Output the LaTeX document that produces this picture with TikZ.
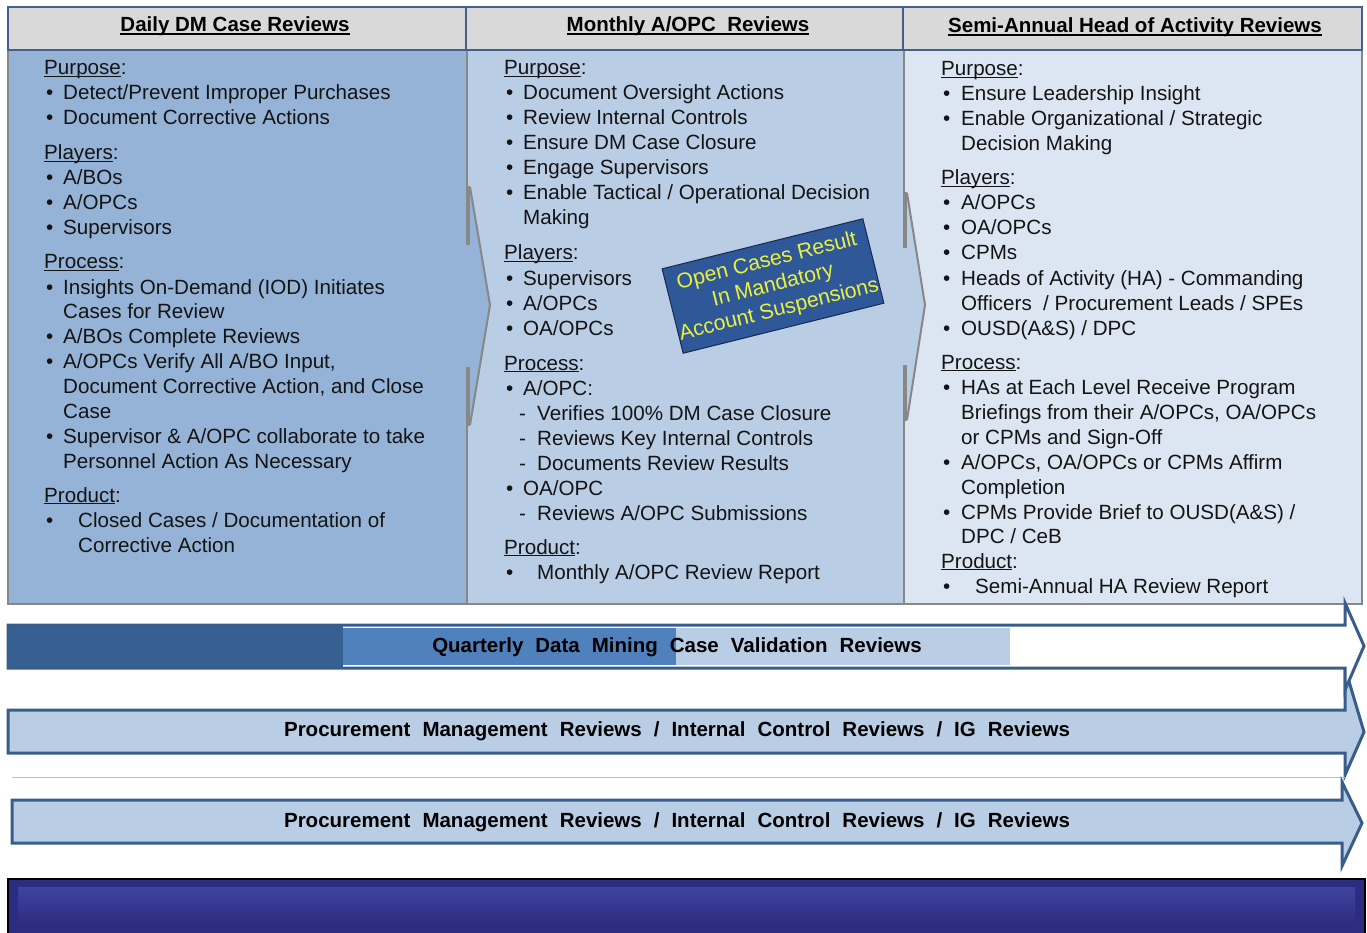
\documentclass[tikz,border=0pt]{standalone}
\usepackage{fontspec}
\setmainfont{Liberation Sans}
\definecolor{hdfill}{RGB}{217,217,217}
\definecolor{hdline}{RGB}{66,96,138}
\definecolor{cola}{RGB}{149,179,215}
\definecolor{colb}{RGB}{185,205,229}
\definecolor{colc}{RGB}{220,230,242}
\definecolor{sepgray}{RGB}{135,135,135}
\definecolor{arrline}{RGB}{56,93,138}
\definecolor{arrdark}{RGB}{55,96,146}
\definecolor{arrmid}{RGB}{79,129,189}
\definecolor{arrlight}{RGB}{185,205,229}
\definecolor{boxblue}{RGB}{47,88,152}
\definecolor{boxline}{RGB}{25,40,80}
\definecolor{warnyellow}{RGB}{235,240,60}
\definecolor{barnavy}{RGB}{44,44,128}
\definecolor{bartop}{RGB}{64,66,160}
\definecolor{textblack}{RGB}{20,20,20}
\newcommand\ulx[1]{{\setbox0\hbox{#1}\rlap{\rule[-2.2pt]{\wd0}{1.1pt}}\box0}}
\newcommand\ulh[1]{{\setbox0\hbox{#1}\rlap{\rule[-3pt]{\wd0}{1.5pt}}\box0}}
\newcommand\wsp[1]{{\spaceskip=12pt plus 1pt\relax #1}}
\newcommand\Hd[4]{\node[txt] (#1) at (#2,#3) {\ulx{#4}:};}
\newcommand\Bu[5]{\node[txt] (#1) at (#2,#3) {\makebox[#4pt][l]{\textbullet}#5};}
\newcommand\Dl[4]{\node[txt] (#1) at (#2,#3) {\makebox[18pt][l]{-}#4};}
\newcommand\Cl[4]{\node[txt] (#1) at (#2,#3) {#4};}
\tikzset{
  txt/.style={anchor=base west, inner sep=0pt, text=textblack, font=\fontsize{20.6}{25}\selectfont},
  hdtxt/.style={anchor=base, inner sep=0pt, text=black, font=\fontsize{20.5}{25}\selectfont\bfseries},
  arrtxt/.style={inner sep=0pt, text=black, font=\fontsize{20.5}{25}\selectfont\bfseries},
  hdcell/.style={fill=hdfill, draw=hdline, line width=2.5pt},
  colcell/.style={draw=sepgray, line width=2pt},
  chev/.style={draw=sepgray, line width=2pt, line join=round},
  chevbar/.style={draw=sepgray, line width=4pt},
  arrow/.style={draw=arrline, line width=3pt, line join=miter},
}
\begin{document}
\begin{tikzpicture}[x=1pt,y=-1pt]
\useasboundingbox (0,0) rectangle (1367,933);
\fill[white] (0,0) rectangle (1367,933);
% columns
\path[colcell, fill=cola] (8,50) rectangle (467,604);
\path[colcell, fill=colb] (467,50) rectangle (904,604);
\path[colcell, fill=colc] (904,50) rectangle (1362,604);
% chevrons
\fill[cola] (464,187) -- (470,187) -- (490,305) -- (470,425) -- (464,425) -- cycle;
\draw[chev] (470,187) -- (490,305) -- (470,425);
\draw[chevbar] (468,186) -- (468,245);
\draw[chevbar] (468,367) -- (468,426);
\fill[colb] (901,193) -- (907,193) -- (925,305) -- (907,420) -- (901,420) -- cycle;
\draw[chev] (907,193) -- (925,305) -- (907,420);
\draw[chevbar] (905,192) -- (905,248);
\draw[chevbar] (905,365) -- (905,421);
% headers
\path[hdcell] (8,7) rectangle (466,50);
\path[hdcell] (466,7) rectangle (903,50);
\path[hdcell] (903,7) rectangle (1362,50);
\node[hdtxt] (h1) at (235,32) {\ulh{Daily DM Case Reviews}};
\node[hdtxt] (h2) at (688,32) {\ulh{Monthly A/OPC\ \ Reviews}};
\node[hdtxt] (h3) at (1135,33) {\ulh{Semi-Annual Head of Activity Reviews}};
% column 1
\Hd{a1}{44}{75}{Purpose}
\Bu{a2}{46}{100}{17}{Detect/Prevent Improper Purchases}
\Bu{a3}{46}{125}{17}{Document Corrective Actions}
\Hd{a4}{44}{160}{Players}
\Bu{a5}{46}{185}{17}{A/BOs}
\Bu{a6}{46}{210}{17}{A/OPCs}
\Bu{a7}{46}{235}{17}{Supervisors}
\Hd{a8}{44}{269}{Process}
\Bu{a9}{46}{294}{17}{Insights On-Demand (IOD) Initiates}
\Cl{a10}{63}{318}{Cases for Review}
\Bu{a11}{46}{343}{17}{A/BOs Complete Reviews}
\Bu{a12}{46}{368}{17}{A/OPCs Verify All A/BO Input,}
\Cl{a13}{63}{393}{Document Corrective Action, and Close}
\Cl{a14}{63}{418}{Case}
\Bu{a15}{46}{443}{17}{Supervisor \& A/OPC collaborate to take}
\Cl{a16}{63}{468}{Personnel Action As Necessary}
\Hd{a17}{44}{502}{Product}
\Bu{a18}{46}{527}{32}{Closed Cases / Documentation of}
\Cl{a19}{78}{552}{Corrective Action}
% column 2
\Hd{b1}{504}{75}{Purpose}
\Bu{b2}{506}{100}{17}{Document Oversight Actions}
\Bu{b3}{506}{125}{17}{Review Internal Controls}
\Bu{b4}{506}{150}{17}{Ensure DM Case Closure}
\Bu{b5}{506}{175}{17}{Engage Supervisors}
\Bu{b6}{506}{200}{17}{Enable Tactical / Operational Decision}
\Cl{b7}{523}{225}{Making}
\Hd{b8}{504}{260}{Players}
\Bu{b9}{506}{285}{17}{Supervisors}
\Bu{b10}{506}{310}{17}{A/OPCs}
\Bu{b11}{506}{335}{17}{OA/OPCs}
\Hd{b12}{504}{370}{Process}
\Bu{b13}{506}{395}{17}{A/OPC:}
\Dl{b14}{519}{420}{Verifies 100\% DM Case Closure}
\Dl{b15}{519}{445}{Reviews Key Internal Controls}
\Dl{b16}{519}{470}{Documents Review Results}
\Bu{b17}{506}{495}{17}{OA/OPC}
\Dl{b18}{519}{520}{Reviews A/OPC Submissions}
\Hd{b19}{504}{554}{Product}
\Bu{b20}{506}{579}{31}{Monthly A/OPC Review Report}
% column 3
\Hd{c1}{941}{76}{Purpose}
\Bu{c2}{943}{101}{18}{Ensure Leadership Insight}
\Bu{c3}{943}{126}{18}{Enable Organizational / Strategic}
\Cl{c4}{961}{151}{Decision Making}
\Hd{c5}{941}{185}{Players}
\Bu{c6}{943}{210}{18}{A/OPCs}
\Bu{c7}{943}{235}{18}{OA/OPCs}
\Bu{c8}{943}{260}{18}{CPMs}
\Bu{c9}{943}{285}{18}{Heads of Activity (HA) - Commanding}
\Cl{c10}{961}{310}{Officers\ \ / Procurement Leads / SPEs}
\Bu{c11}{943}{335}{18}{OUSD(A\&S) / DPC}
\Hd{c12}{941}{369}{Process}
\Bu{c13}{943}{394}{18}{HAs at Each Level Receive Program}
\Cl{c14}{961}{419}{Briefings from their A/OPCs, OA/OPCs}
\Cl{c15}{961}{444}{or CPMs and Sign-Off}
\Bu{c16}{943}{469}{18}{A/OPCs, OA/OPCs or CPMs Affirm}
\Cl{c17}{961}{494}{Completion}
\Bu{c18}{943}{519}{18}{CPMs Provide Brief to OUSD(A\&S) /}
\Cl{c19}{961}{543}{DPC / CeB}
\Hd{c20}{941}{568}{Product}
\Bu{c21}{943}{593}{32}{Semi-Annual HA Review Report}
% rotated callout
\node[rotate=14, fill=boxblue, draw=boxline, line width=1pt, minimum width=201pt, minimum height=87pt,
      inner sep=1pt, align=center, text=warnyellow, font=\fontsize{21.3}{25}\selectfont] (warn) at (773,286)
      {Open Cases Result\\In Mandatory\\Account Suspensions};
% arrow 2 (drawn first)
\path[arrow, fill=arrlight] (8,710) -- (1345,710) -- (1345,668) -- (1364,732) -- (1345,775) -- (1345,753) -- (8,753) -- cycle;
\node[arrtxt] (t2) at (677,731) {\wsp{Procurement Management Reviews / Internal Control Reviews / IG Reviews}};
% arrow 1
\fill[white] (8,625) -- (1345,625) -- (1345,603) -- (1364,646) -- (1345,690) -- (1345,668) -- (8,668) -- cycle;
\fill[arrdark] (8,624) rectangle (343,669);
\path[arrow] (8,625) -- (1345,625) -- (1345,603) -- (1364,646) -- (1345,690) -- (1345,668) -- (8,668) -- cycle;
\fill[arrmid] (343,628) rectangle (676,665);
\fill[arrlight] (676,628) rectangle (1010,665);
\node[arrtxt] (t1) at (677,647) {\wsp{Quarterly Data Mining Case Validation Reviews}};
% separator line
\draw[black!25, line width=1pt] (12,777) -- (1345,777);
% arrow 3
\path[arrow, fill=arrlight] (12,800) -- (1342,800) -- (1342,782) -- (1362,823) -- (1342,866) -- (1342,843) -- (12,843) -- cycle;
\node[arrtxt] (t3) at (677,822) {\wsp{Procurement Management Reviews / Internal Control Reviews / IG Reviews}};
% bottom bar
\path[draw=black, line width=1.5pt, fill=barnavy] (8,879) rectangle (1365,935);
\shade[top color=bartop, bottom color=barnavy] (18,887) rectangle (1355,925);
\end{tikzpicture}
\end{document}
